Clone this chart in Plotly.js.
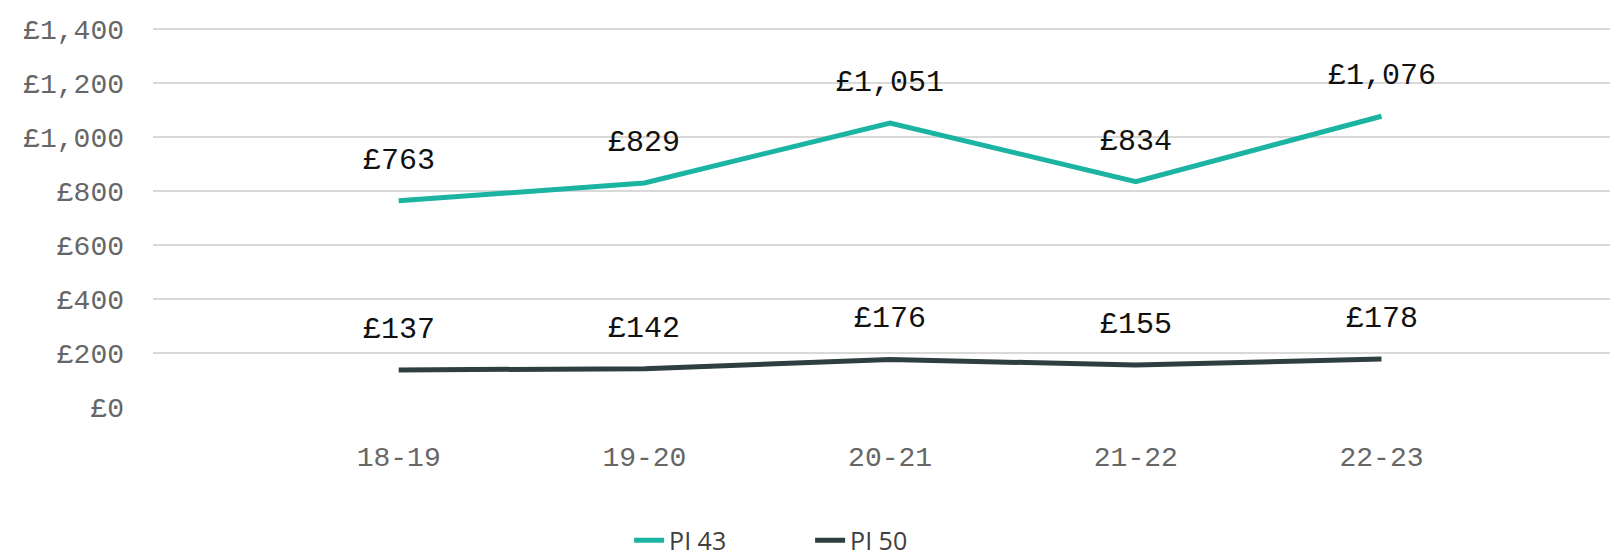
<!DOCTYPE html>
<html>
<head>
<meta charset="utf-8">
<script src="https://cdn.plot.ly/plotly-3.0.1.min.js"></script>
<style>html,body{margin:0;padding:0;background:#fff;}#chart{width:1610px;height:557px;}</style>
</head>
<body>
<div id="chart"></div>
<script>
const categories = ["18-19", "19-20", "20-21", "21-22", "22-23"];
const pi43 = [763, 829, 1051, 834, 1076];
const pi50 = [137, 142, 176, 155, 178];
const seriesNames = ["PI 43", "PI 50"];
const yTickVals = [0, 200, 400, 600, 800, 1000, 1200, 1400];
const yTickText = ["£0", "£200", "£400", "£600", "£800", "£1,000", "£1,200", "£1,400"];

const fmt = v => "£" + v.toLocaleString("en-GB");
const monoFont = "Liberation Mono, DejaVu Sans Mono, monospace";

const traces = [
  {x: categories, y: pi43, name: seriesNames[0], mode: "lines", type: "scatter",
   line: {color: "#1BB3A2", width: 5}},
  {x: categories, y: pi50, name: seriesNames[1], mode: "lines", type: "scatter",
   line: {color: "#2F3E40", width: 5}}
];

const annotations = [];
[pi43, pi50].forEach(series => {
  series.forEach((v, i) => {
    annotations.push({x: categories[i], y: v, xref: "x", yref: "y", text: fmt(v),
      showarrow: false, yshift: 40, font: {family: monoFont, size: 30, color: "#111"}});
  });
});

const layout = {
  width: 1610, height: 557,
  margin: {l: 153, r: 0, t: 26, b: 150, autoexpand: false},
  paper_bgcolor: "#fff", plot_bgcolor: "#fff",
  showlegend: true,
  legend: {orientation: "h", x: 0.451, xanchor: "center", y: -0.411, yanchor: "bottom",
    entrywidth: 136, entrywidthmode: "pixels", tracegroupgap: 0,
    font: {family: "Open Sans, Noto Sans, sans-serif", size: 25, color: "#404040"}},
  xaxis: {type: "category", range: [-1, 4.93], showgrid: false, zeroline: false,
    showline: false, ticks: "", ticklabelstandoff: 30,
    tickfont: {family: monoFont, size: 28, color: "#666666"}},
  yaxis: {range: [0, 1410], tickvals: yTickVals, ticktext: yTickText,
    showgrid: true, gridcolor: "#D9D9D9", gridwidth: 2, zeroline: false,
    showline: false, ticks: "", ticklabelstandoff: 28,
    tickfont: {family: monoFont, size: 28, color: "#666666"}},
  annotations: annotations
};

Plotly.newPlot("chart", traces, layout, {displayModeBar: false, staticPlot: true});
</script>
</body>
</html>
